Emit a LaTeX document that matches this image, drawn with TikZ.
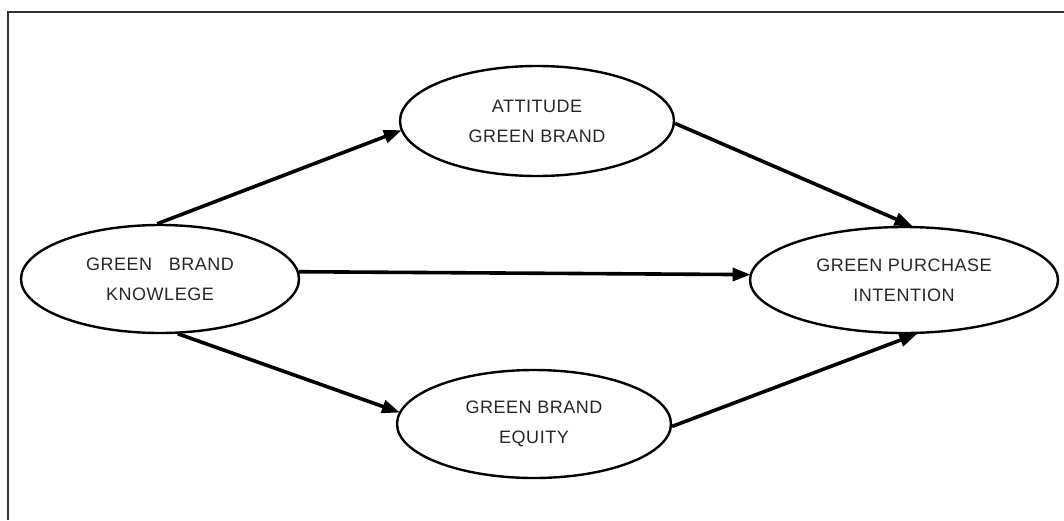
\documentclass[tikz,border=0pt]{standalone}
\usepackage{fontspec}
\setmainfont{Liberation Sans}[LetterSpace=3]
\usetikzlibrary{shapes.geometric,arrows.meta}
\begin{document}
\begin{tikzpicture}[x=1pt,y=-1pt,
  ell/.style={draw=black,line width=2.4pt,ellipse,inner sep=0pt,align=center,
    font=\fontsize{18}{30}\selectfont,text=black!85},
  conn/.style={line width=3.6pt,-{Triangle[length=18pt,width=13pt]},shorten >=-1pt},
  frame/.style={line width=1.6pt,black!80}]
\useasboundingbox (0,0) rectangle (1064,520);
\draw[frame] (8,520) -- (8,12) -- (1064,12);
\node[ell,minimum width=278pt,minimum height=108pt] (gbk) at (160,279) {GREEN\ \ \ BRAND\\KNOWLEGE};
\node[ell,minimum width=274pt,minimum height=110pt] (att) at (537,121) {ATTITUDE\\GREEN BRAND};
\node[ell,minimum width=274pt,minimum height=108pt] (gbe) at (534,424) {GREEN BRAND\\EQUITY};
\node[ell,minimum width=308pt,minimum height=106pt] (gpi) at (904,280) {GREEN PURCHASE\\INTENTION};
\draw[conn] (gbk.93) -- (att.184);
\draw[conn] (att.-1) -- (gpi.82);
\draw[conn] (gbk.3) -- (gpi.178);
\draw[conn] (gbk.-72) -- (gbe.175);
\draw[conn] (gbe.-1) -- (gpi.-77);
\end{tikzpicture}
\end{document}
